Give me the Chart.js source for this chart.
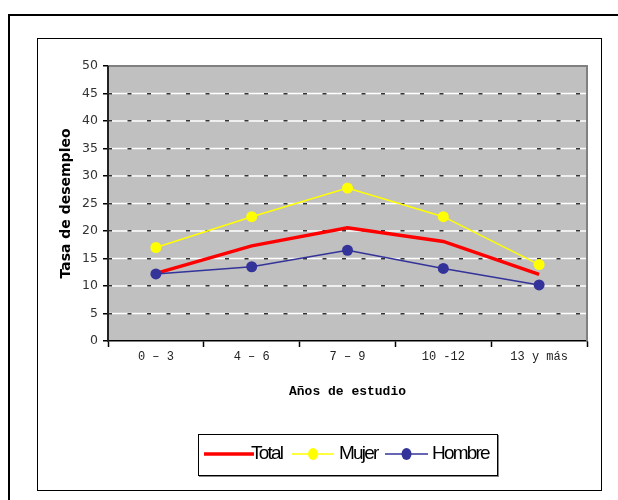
<!DOCTYPE html>
<html>
<head>
<meta charset="utf-8">
<script src="https://cdn.jsdelivr.net/npm/chart.js@4"></script>
<style>
  body { margin: 0; background: #fff; }
  #wrap { position: relative; width: 618px; height: 500px; overflow: hidden; }
  .outer { position: absolute; left: 8px; top: 14px; width: 700px; height: 600px; border: 2px solid #000; }
  .inner { position: absolute; left: 37px; top: 38px; width: 563px; height: 451px; border: 1.5px solid #000; }
  #chart-holder { position: absolute; left: 0; top: 0; width: 618px; height: 500px; }
  .legend { position: absolute; left: 198px; top: 434px; width: 298px; height: 40px; border: 1px solid #000;
            box-shadow: 1px 1px 0 #888; background: #fff; font-family: "Liberation Sans", Arial, sans-serif;
            font-size: 19px; letter-spacing: -1.8px; color: #000; }
  .legend span { position: absolute; top: 7px; }
  .legend svg { position: absolute; top: 12px; }
</style>
</head>
<body>
<div id="wrap">
  <div class="outer"></div>
  <div class="inner"></div>
  <div id="chart-holder"><canvas id="chart"></canvas></div>
  <div class="legend" id="legend"></div>
</div>
<script>
// data
const categories = ["0 – 3", "4 – 6", "7 – 9", "10 -12", "13 y más"];
const seriesNames = ["Total", "Mujer", "Hombre"];
const totalValues = [12.3, 17.3, 20.6, 18.1, 12.1];
const mujerValues = [17.0, 22.6, 27.8, 22.6, 13.9];
const hombreValues = [12.2, 13.5, 16.5, 13.2, 10.2];
const yTicks = [0, 5, 10, 15, 20, 25, 30, 35, 40, 45, 50];

const colors = ["#ff0000", "#ffff00", "#333399"];

// gray plot area with white lines under the dashed grid
const plotBg = {
    id: "plotBg",
    beforeDraw(chart) {
        const { ctx, chartArea: a, scales: { y } } = chart;
        ctx.save();
        ctx.fillStyle = "#c0c0c0";
        ctx.fillRect(a.left, a.top, a.right - a.left, a.bottom - a.top);
        ctx.strokeStyle = "#ffffff";
        ctx.lineWidth = 1.5;
        yTicks.forEach(v => {
            if (v > yTicks[0] && v < yTicks[yTicks.length - 1]) {
                const py = y.getPixelForValue(v);
                ctx.beginPath();
                ctx.moveTo(a.left, py);
                ctx.lineTo(a.right, py);
                ctx.stroke();
            }
        });
        ctx.restore();
    },
    beforeDatasetsDraw(chart) {
        const { ctx, chartArea: a } = chart;
        ctx.save();
        // top and right frame of the plot
        ctx.strokeStyle = "#808080";
        ctx.lineWidth = 2;
        ctx.beginPath();
        ctx.moveTo(a.left, a.top);
        ctx.lineTo(a.right, a.top);
        ctx.lineTo(a.right, a.bottom);
        ctx.stroke();
        // solid value axis line (the grid dash would dash it otherwise)
        ctx.strokeStyle = "#222";
        ctx.beginPath();
        ctx.moveTo(a.left, a.top);
        ctx.lineTo(a.left, a.bottom + 1);
        ctx.stroke();
        ctx.restore();
    }
};

const datasets = [
    {
        label: seriesNames[0],
        data: totalValues,
        borderColor: colors[0],
        borderWidth: 3.5,
        pointRadius: 0,
        order: 2
    },
    {
        label: seriesNames[1],
        data: mujerValues,
        borderColor: colors[1],
        backgroundColor: colors[1],
        borderWidth: 1.5,
        pointRadius: 5.5,
        pointBorderWidth: 0,
        order: 1
    },
    {
        label: seriesNames[2],
        data: hombreValues,
        borderColor: colors[2],
        backgroundColor: colors[2],
        borderWidth: 1.5,
        pointRadius: 5.5,
        pointBorderWidth: 0,
        order: 0
    }
];

new Chart(document.getElementById("chart"), {
    type: "line",
    data: { labels: categories, datasets: datasets },
    plugins: [plotBg],
    options: {
        animation: false,
        responsive: true,
        maintainAspectRatio: false,
        layout: { padding: { left: 40, top: 66, right: 31, bottom: 89 } },
        plugins: {
            legend: { display: false },
            tooltip: { enabled: false }
        },
        scales: {
            x: {
                offset: true,
                afterFit: s => { s.height = 70; },
                grid: {
                    offset: true,
                    drawOnChartArea: false,
                    drawTicks: true,
                    tickLength: 6,
                    tickColor: "#000",
                    tickWidth: 1.5
                },
                border: { display: true, color: "#000", width: 1.5 },
                ticks: {
                    color: "#222",
                    padding: 3,
                    font: { family: "Liberation Mono", size: 12 }
                },
                title: {
                    display: true,
                    text: "Años de estudio",
                    color: "#000",
                    font: { family: "Liberation Mono", size: 13, weight: "bold" },
                    padding: { top: 0, bottom: 11 }
                }
            },
            y: {
                min: 0,
                max: 50,
                afterFit: s => { s.width = 68; },
                afterBuildTicks: s => { s.ticks = yTicks.map(v => ({ value: v })); },
                grid: {
                    color: c => (c.tick && (c.tick.value === 0 || c.tick.value === 50)) ? "rgba(0,0,0,0)" : "#333",
                    lineWidth: 1.5,
                    drawTicks: true,
                    tickLength: 5,
                    tickColor: "#000",
                    tickWidth: 1.5,
                    tickBorderDash: []
                },
                border: { display: false, dash: [4, 15.5] },
                ticks: {
                    color: "#333",
                    padding: 5,
                    font: { family: "DejaVu Sans", size: 12.5 }
                },
                title: {
                    display: true,
                    text: "Tasa de desempleo",
                    color: "#000",
                    font: { family: "DejaVu Sans", size: 14, weight: "bold" },
                    padding: { top: 18, bottom: 0 }
                }
            }
        }
    }
});

// legend box, swatches built from the series colours
const legend = document.getElementById("legend");
const legendItems = [
    { line: [5, 50], text: 52, marker: false },
    { line: [93, 42], text: 140, marker: true },
    { line: [186, 43], text: 233, marker: true }
];
legendItems.forEach((it, i) => {
    const w = it.line[1];
    const svg = `<svg style="left:${it.line[0]}px" width="${w}" height="14">
        <line x1="0" y1="7" x2="${w}" y2="7" stroke="${colors[i]}" stroke-width="${i === 0 ? 3.5 : 1.5}"/>
        ${it.marker ? `<ellipse cx="${w / 2}" cy="7" rx="5" ry="6" fill="${colors[i]}"/>` : ""}
    </svg>`;
    legend.insertAdjacentHTML("beforeend", svg + `<span style="left:${it.text}px">${seriesNames[i]}</span>`);
});
</script>
</body>
</html>
